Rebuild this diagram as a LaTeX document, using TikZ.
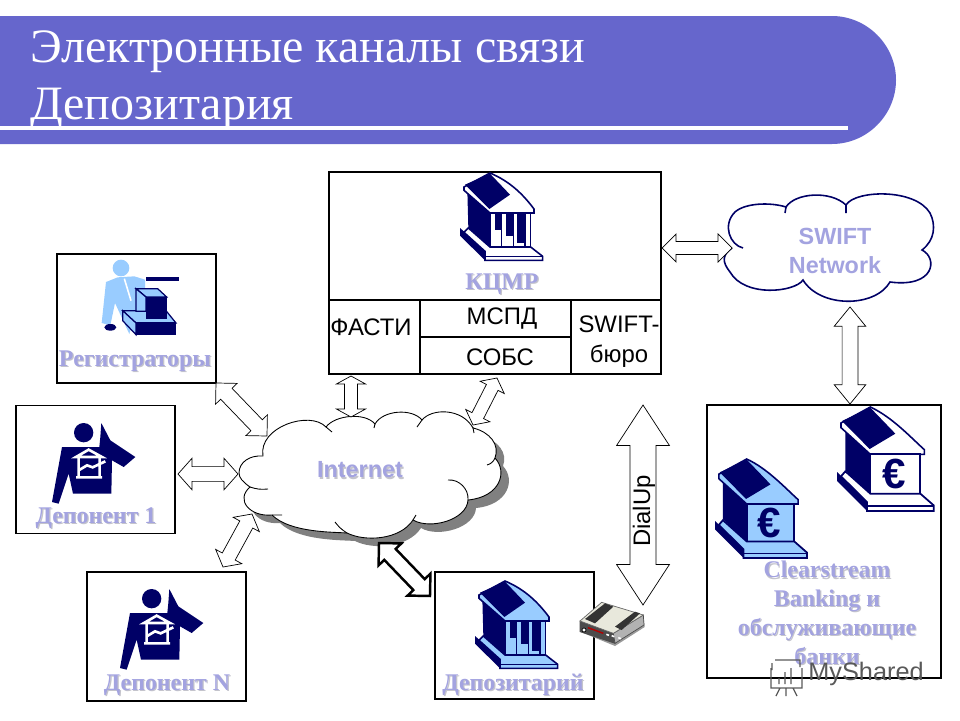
\documentclass[tikz,border=0pt]{standalone}
\usepackage{fontspec}
\setmainfont{Liberation Serif}
\setsansfont{Liberation Sans}
\usetikzlibrary{calc}
\definecolor{bandblue}{HTML}{6666CC}
\definecolor{navyicon}{HTML}{000066}
\definecolor{skyicon}{HTML}{99CCFF}
\definecolor{labelblue}{HTML}{A3A3E0}
\definecolor{labelshade}{HTML}{C4C4CC}
\definecolor{modemtop}{HTML}{E8E8DC}
\tikzset{%
    panel/.style={draw, line width=1.1pt, inner sep=0pt, outer sep=0pt},
    celltext/.style={font=\sffamily\fontsize{13.6}{15}\selectfont, inner sep=0pt, align=center},
    labeltext/.style={font=\bfseries\fontsize{13.6}{16.4}\selectfont, text=labelblue, inner sep=0pt, align=center},
    sanslabel/.style={font=\sffamily\bfseries\fontsize{13.3}{16.5}\selectfont, text=labelblue, inner sep=0pt, align=center},
    titletext/.style={font=\fontsize{27.3}{30}\selectfont, text=white, inner sep=0pt, anchor=base west},
    linkline/.style={draw=black, fill=white, line width=0.4pt, line join=miter},
    % bank with columns, #1 is the colour of its front
    pics/bank/.style={code={
        \fill[navyicon] (22,52) -- (90,120) -- (90,225) -- (25,165) -- cycle;
        \filldraw[fill=#1, draw=navyicon, line width=0.9pt] (12,42) -- (90,0) .. controls (150,25) and (190,65) .. (222,108) -- (222,120) -- (90,120) -- (12,52) -- cycle;
        \fill[navyicon] (15,35) -- (90,2) -- (150,65) -- (88,108) -- cycle;
        \filldraw[fill=#1, draw=navyicon, line width=0.9pt] (90,120) rectangle (212,222);
        \foreach \gapx/\gapw/\gapy in {105/20/172, 137/23/190, 172/23/210}
            \fill[navyicon] (\gapx,120) rectangle (\gapx+\gapw,\gapy);
        \foreach \colx in {125,160,195}
            \draw[navyicon, line width=0.9pt] (\colx,120) -- (\colx,222);
        \fill[navyicon] (0,165) -- (75,230) -- (75,262) -- (0,188) -- cycle;
        \filldraw[fill=#1, draw=navyicon, line width=0.9pt] (25,165) -- (90,222) -- (212,222) -- (248,250) -- (248,262) -- (75,262) -- (75,235) -- (12,178) -- cycle;
        \draw[navyicon, line width=0.9pt] (75,250) -- (248,250);
    }},
    % bank with the euro sign, #1 is the colour of its front
    pics/eurobank/.style={code={
        \fill[navyicon] (25,60) -- (100,142) -- (100,260) -- (25,190) -- cycle;
        \filldraw[fill=#1, draw=navyicon, line width=0.9pt] (12,48) -- (100,0) .. controls (165,30) and (220,90) .. (262,128) -- (262,142) -- (100,142) -- (12,62) -- cycle;
        \fill[navyicon] (15,42) -- (100,2) -- (175,80) -- (98,126) -- cycle;
        \filldraw[fill=#1, draw=navyicon, line width=1pt] (100,142) rectangle (250,260);
        \node[font=\sffamily\bfseries\fontsize{24}{24}\selectfont, text=navyicon, inner sep=0pt] (eurosign) at (172,201) {€};
        \fill[navyicon] (0,195) -- (90,285) -- (90,312) -- (0,222) -- cycle;
        \filldraw[fill=#1, draw=navyicon, line width=1pt] (25,193) -- (100,260) -- (250,260) -- (290,295) -- (290,312) -- (90,312) -- (90,285) -- (12,208) -- cycle;
        \draw[navyicon, line width=1pt] (90,298) -- (290,298);
    }},
    % man at the telephone
    pics/depositor/.style={code={
        \fill[navyicon] (95,32) circle (29);
        \fill[navyicon] (30,75) -- (142,75) -- (145,45) -- (148,3) -- (175,55) -- (250,105) -- (215,135) -- (180,115) -- (178,215) -- (63,215) -- (50,155) -- (20,245) -- (0,240) -- cycle;
        \draw[white, line width=1.5pt, line join=miter] (72,105) -- (110,83) -- (150,105) -- cycle;
        \draw[white, line width=1.5pt] (80,108) -- (80,165) (143,108) -- (143,165) (72,166) -- (150,166) (80,145) -- (105,130) -- (122,136) -- (160,118);
    }},
    % clerk at the machine
    pics/registrar/.style={code={
        \fill[skyicon] (60,0) circle (25);
        \fill[skyicon] (15,42) -- (50,28) -- (100,25) -- (132,35) -- (132,90) -- (105,125) -- (85,198) -- (42,105) -- (28,172) -- (2,165) -- cycle;
        \draw[white, line width=0.9pt] (70,32) -- (90,98);
        \fill[navyicon] (28,178) ellipse (18 and 10);
        \draw[navyicon, line width=2.2pt] (135,34) -- (233,34);
        \filldraw[fill=skyicon, draw=navyicon, line width=.7pt] (65,128) -- (105,165) -- (225,165) -- (195,128) -- cycle;
        \filldraw[fill=skyicon, draw=navyicon, line width=.7pt] (65,128) -- (105,165) -- (105,200) -- (65,158) -- cycle;
        \fill[navyicon] (105,162) rectangle (225,200);
        \filldraw[fill=skyicon, draw=navyicon, line width=.7pt] (105,62) -- (170,62) -- (197,87) -- (135,87) -- cycle;
        \filldraw[fill=skyicon, draw=navyicon, line width=.7pt] (105,62) -- (135,87) -- (135,130) -- (105,130) -- cycle;
        \fill[navyicon] (135,87) rectangle (197,152);
    }},
    % modem on the way to the arrow
    pics/modem/.style={code={
        \fill[black!40] (6,92) -- (111,135) -- (200,78) -- (196,42) -- (6,60) -- cycle;
        \filldraw[fill=black!70, draw=black!70, line width=0.4pt] (6,60) -- (106,97) -- (111,127) -- (6,92) -- cycle;
        \filldraw[fill=black!30, draw=black!70, line width=0.4pt] (106,97) -- (196,42) -- (198,72) -- (111,127) -- cycle;
        \filldraw[fill=modemtop, draw=black!60, line width=0.4pt] (6,60) -- (71,4) -- (196,42) -- (106,97) -- cycle;
        \fill[black!80] (21,54) -- (81,7) -- (106,17) -- (51,67) -- cycle;
        \fill[black!80] (111,77) -- (171,32) -- (186,37) -- (131,87) -- cycle;
        \draw[red!70!black, line width=0.8pt] (30,80) -- (76,97);
        \foreach \ledx/\ledy in {85/100, 101/104, 121/110}
            \draw[white, line width=0.9pt] (\ledx,\ledy) -- (\ledx+8,\ledy+3);
        \filldraw[fill=white, draw=black, line width=0.4pt] (18,87) circle (6);
    }},
}
\newcommand{\iconlabel}[4][labeltext]{%
    \node[#1, text=labelshade] (#2shade) at ($(#3)+(1.2,1.2)$) {#4};
    \node[#1] (#2) at (#3) {#4};
}
% block arrow with two heads: from, to, half width of head, half width of shaft, length of head
\newcommand{\linkarrow}[6][]{%
    \draw[linkline,#1] (#2)
        -- ($(#2)!#6!(#3)!#4!90:(#3)$) -- ($(#2)!#6!(#3)!#5!90:(#3)$)
        -- ($(#3)!#6!(#2)!#5!-90:(#2)$) -- ($(#3)!#6!(#2)!#4!-90:(#2)$)
        -- (#3)
        -- ($(#3)!#6!(#2)!#4!90:(#2)$) -- ($(#3)!#6!(#2)!#5!90:(#2)$)
        -- ($(#2)!#6!(#3)!#5!-90:(#3)$) -- ($(#2)!#6!(#3)!#4!-90:(#3)$) -- cycle;
}
\begin{document}
\begin{tikzpicture}[x=0.02cm, y=-0.02cm]
    \useasboundingbox (0,0) rectangle (960,720);

    % title band
    \fill[bandblue] (0,16) -- (832,16) .. controls (867,16) and (896,45) .. (896,80) .. controls (896,115) and (867,144) .. (832,144) -- (0,144) -- cycle;
    \fill[white] (0,126) rectangle (848,130);
    \node[titletext] (titleone) at (30,62) {Электронные каналы связи};
    \node[titletext] (titletwo) at (30,119) {Депозитария};

    % clouds
    \newcommand{\internetcloud}{(239,473) .. controls (239,462) and (250,455) .. (263,456)
        .. controls (258,427) and (310,410) .. (326,427)
        .. controls (335,415) and (365,412) .. (375,424)
        .. controls (383,410) and (412,408) .. (422,420)
        .. controls (432,408) and (462,408) .. (473,428)
        .. controls (490,432) and (500,445) .. (495,458)
        .. controls (508,472) and (500,497) .. (468,500)
        .. controls (467,520) and (430,530) .. (413,520)
        .. controls (400,540) and (365,542) .. (347,533)
        .. controls (335,532) and (290,533) .. (272,515)
        .. controls (250,517) and (235,500) .. (250,487)
        .. controls (243,482) and (239,478) .. cycle}
    \fill[black!50, xshift=0.16cm, yshift=-0.16cm] \internetcloud;
    \filldraw[fill=white, draw=black, line width=0.5pt] \internetcloud;
    \draw[black, line width=0.5pt] (250,487) to[bend right=12] (268,489) (326,427) -- (332,432) (375,424) -- (374,428) (422,420) -- (417,427) (473,428) -- (474,433) (495,458) to[bend left=25] (487,465) (448,480) to[bend left=50] (468,500) (413,520) -- (416,515) (347,533) to[bend left=10] (335,522) (272,515) -- (282,515);
    \draw[navyicon, line width=0.9pt, fill=white] (743,248) .. controls (730,245) and (722,225) .. (735,212)
        .. controls (745,203) and (770,202) .. (786,207)
        .. controls (795,193) and (830,190) .. (846,205)
        .. controls (855,190) and (915,188) .. (930,213)
        .. controls (936,225) and (935,240) .. (922,250)
        .. controls (938,258) and (935,288) .. (890,282)
        .. controls (875,308) and (820,308) .. (803,280)
        .. controls (795,292) and (745,298) .. (730,272)
        .. controls (722,262) and (722,255) .. (732,248);
    \draw[navyicon, line width=0.9pt] (786,207) -- (785,213) (846,205) -- (846,213);

    % frames
    \node[panel, minimum width=6.64cm, minimum height=4.04cm] (kcmr) at (495,273) {};
    \node[panel, minimum width=3.18cm, minimum height=2.58cm] (registrar) at (136.5,318.5) {};
    \node[panel, minimum width=3.18cm, minimum height=2.56cm] (firstdep) at (95.5,469.5) {};
    \node[panel, minimum width=3.18cm, minimum height=2.58cm] (lastdep) at (166.5,636.5) {};
    \node[panel, minimum width=3.18cm, minimum height=2.54cm] (depository) at (514.5,635.5) {};
    \node[panel, minimum width=4.68cm, minimum height=5.46cm] (clearing) at (824,541.5) {};

    % cells under the top frame
    \coordinate (cellleft) at (329,300);
    \coordinate (cellright) at (661,300);
    \draw[line width=1.1pt] (cellleft) -- (cellright);
    \draw[line width=1.1pt] (420,300) -- (420,374) (571,300) -- (571,374) (420,337) -- (571,337);
    \node[celltext] (fasti) at (371,327) {ФАСТИ};
    \node[celltext] (mspd) at (502,319) {МСПД};
    \node[celltext] (sobs) at (500,357) {СОБС};
    \node[celltext] (swiftbureau) at (619,342) {SWIFT-\\[2pt]бюро};

    % block arrows
    \coordinate (inetleft) at (238,474);
    \coordinate (inetupperleft) at (267,436);
    \coordinate (inetlowerleft) at (252,514);
    \coordinate (inettop) at (351,417);
    \coordinate (inetright) at (473,425);
    \coordinate (inetbottom) at (379,543);
    \coordinate (kcmrfasti) at (351,376);
    \coordinate (kcmrsobs) at (497,378);
    \coordinate (firstdepend) at (178,474);
    \coordinate (lastdepend) at (223,567);
    \coordinate (depositoryend) at (430,596);
    \coordinate (kcmrend) at (662,248);
    \coordinate (swiftleft) at (732,248);
    \coordinate (swiftbottom) at (850,307);
    \coordinate (clearingtop) at (850,404);
    \coordinate (dialtop) at (643,405);
    \coordinate (dialbottom) at (643,605);

    \linkarrow{registrar.south east}{inetupperleft}{8.5pt}{4.5pt}{8.5pt}
    \linkarrow{firstdepend}{inetleft}{9pt}{4.2pt}{8pt}
    \linkarrow{lastdepend}{inetlowerleft}{8.5pt}{4.2pt}{6.8pt}
    \linkarrow{kcmrfasti}{inettop}{8.2pt}{3.7pt}{4.5pt}
    \linkarrow{kcmrsobs}{inetright}{7.7pt}{3.7pt}{6pt}
    \linkarrow[line width=1.4pt]{depositoryend}{inetbottom}{9pt}{4.5pt}{9pt}
    \linkarrow{kcmrend}{swiftleft}{8pt}{3.7pt}{8pt}
    \linkarrow{swiftbottom}{clearingtop}{9pt}{4.5pt}{11pt}
    \linkarrow{dialtop}{dialbottom}{15pt}{7.4pt}{23pt}
    \node[celltext, rotate=90] (dialup) at (644,511) {DialUp};

    % icons
    \pic[scale=1/3] at (460,173) {bank=white};
    \pic[scale=1/3] at (475,581) {bank=skyicon};
    \pic[scale=1/3] at (837,407) {eurobank=white};
    \pic[scale=0.317] at (715,459) {eurobank=skyicon};
    \pic[scale=1/3] at (52,422) {depositor};
    \pic[scale=1/3] at (120,588) {depositor};
    \pic[scale=1/3] at (101,268) {registrar};
    \pic[scale=1/3] at (578,601) {modem};

    % labels
    \coordinate (kcmrspot) at (502,284);
    \coordinate (registrarspot) at (135,361);
    \coordinate (firstspot) at (96,518);
    \coordinate (lastspot) at (167,685);
    \coordinate (depositoryspot) at (513,685);
    \coordinate (clearingspot) at (827,613);
    \coordinate (internetspot) at (360,470);
    \coordinate (swiftspot) at (835,250.5);
    \iconlabel{kcmrlabel}{kcmrspot}{КЦМР}
    \iconlabel{registrarlabel}{registrarspot}{Регистраторы}
    \iconlabel{firstlabel}{firstspot}{Депонент 1}
    \iconlabel{lastlabel}{lastspot}{Депонент N}
    \iconlabel{depositorylabel}{depositoryspot}{Депозитарий}
    \iconlabel{clearinglabel}{clearingspot}{Clearstream\\Banking и\\обслуживающие\\банки}
    \iconlabel[sanslabel]{internetlabel}{internetspot}{Internet}
    \node[sanslabel] (swiftlabel) at (swiftspot) {SWIFT\\Network};

    % site mark
    \node[font=\sffamily\fontsize{14.4}{18}\selectfont, text=black!65, inner sep=0pt, anchor=west] (sitemark) at (808,674) {MyShared};
    \draw[black!65, line width=0.7pt] (775,660) -- (800,660) -- (800,667) (772,663) -- (772,670) (771,668) -- (771,688) -- (802,688) -- (802,668) (780,688) -- (776,696) (786,688) -- (786,696) (793,688) -- (797,696) (779,684) -- (779,678) (785,684) -- (785,672) (791,684) -- (791,668);
\end{tikzpicture}
\end{document}
